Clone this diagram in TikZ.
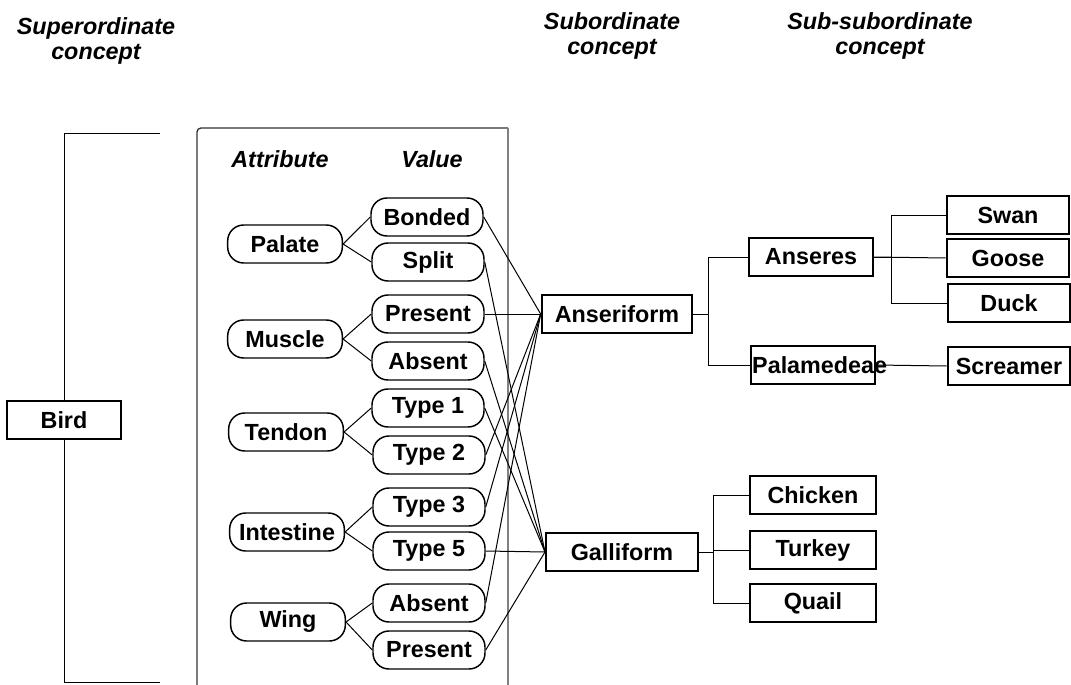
\documentclass[tikz,border=0pt]{standalone}
\usepackage{fontspec}
\setmainfont{Liberation Sans}
\usetikzlibrary{positioning}
\tikzstyle{head} = [align=center, font=\bfseries\itshape\fontsize{17.5}{19}\selectfont]
\tikzstyle{attr} = [rectangle, rounded corners=12pt, draw=black, line width=1.1pt, inner sep=0pt, minimum width=86pt, minimum height=28.5pt, font=\bfseries\fontsize{17.5}{21}\selectfont]
\tikzstyle{val} = [attr, minimum width=84pt]
\tikzstyle{concept} = [rectangle, draw=black, line width=1.5pt, inner sep=0pt, minimum height=28.5pt, fill=white, font=\bfseries\fontsize{17.5}{21}\selectfont]
\tikzstyle{link} = [line width=0.75pt]

\begin{document}
\begin{tikzpicture}[x=0.75pt, y=-0.75pt]
\useasboundingbox (0,0) rectangle (1071,685);

% headings
\node (hsuper) [head] at (96,41) {Superordinate\\concept};
\node (hsub) [head] at (612,36) {Subordinate\\concept};
\node (hsubsub) [head] at (880,36) {Sub-subordinate\\concept};

% attribute frame
\draw [black!80, line width=1pt, rounded corners=3pt] (197,685) -- (197,128) -- (508,128);
\draw [gray, line width=1.3pt] (508,128) -- (508,685);
\node (hattr) [head] at (280,159) {Attribute};
\node (hval) [head] at (432,159) {Value};

% superordinate
\node (bird) [concept, minimum width=86pt] at (64,420) {Bird};
\draw [link] (160,133) -| (bird.north);
\draw [link] (bird.south) |- (160,682);

% attributes
\node (palate) [attr] at (285,244) {Palate};
\node (muscle) [attr] at (285,339) {Muscle};
\node (tendon) [attr] at (286,432) {Tendon};
\node (intestine) [attr] at (287,532) {Intestine};
\node (wing) [attr] at (288,622) {Wing};

% values
\node (bonded) [val] at (427,217) {Bonded};
\node (split) [val] at (428,262) {Split};
\node (mpresent) [val] at (428,314) {Present};
\node (mabsent) [val] at (428,361) {Absent};
\node (type1) [val] at (428,408) {Type 1};
\node (type2) [val] at (429,455) {Type 2};
\node (type3) [val] at (429,507) {Type 3};
\node (type5) [val] at (429,551) {Type 5};
\node (wabsent) [val] at (429,603) {Absent};
\node (wpresent) [val] at (429,650) {Present};

\draw [link] (palate.east) -- (bonded.west);
\draw [link] (palate.east) -- (split.west);
\draw [link] (muscle.east) -- (mpresent.west);
\draw [link] (muscle.east) -- (mabsent.west);
\draw [link] (tendon.east) -- (type1.west);
\draw [link] (tendon.east) -- (type2.west);
\draw [link] (intestine.east) -- (type3.west);
\draw [link] (intestine.east) -- (type5.west);
\draw [link] (wing.east) -- (wabsent.west);
\draw [link] (wing.east) -- (wpresent.west);

% subordinate
\node (anseriform) [concept, minimum width=113pt] at (617,314) {Anseriform};
\node (galliform) [concept, minimum width=114pt] at (622,552) {Galliform};

\draw [link] (bonded.east) -- (anseriform.west);
\draw [link] (mpresent.east) -- (anseriform.west);
\draw [link] (type2.east) -- (anseriform.west);
\draw [link] (type3.east) -- (anseriform.west);
\draw [link] (wabsent.east) -- (anseriform.west);
\draw [link] (split.east) -- (galliform.west);
\draw [link] (mabsent.east) -- (galliform.west);
\draw [link] (type1.east) -- (galliform.west);
\draw [link] (type5.east) -- (galliform.west);
\draw [link] (wpresent.east) -- (galliform.west);

% sub-subordinate
\node (anseres) [concept, minimum width=93pt] at (811,257) {Anseres};
\node (palamedeae) [concept, minimum width=93pt, fill=none] at (813,365) {\makebox[0pt]{\hspace{10pt}Palamedeae}};
\node (swan) [concept, minimum width=92pt] at (1008,215) {Swan};
\node (goose) [concept, minimum width=92pt] at (1008,258) {Goose};
\node (duck) [concept, minimum width=92pt] at (1009,303) {Duck};
\node (screamer) [concept, minimum width=92pt] at (1009,366) {Screamer};
\node (chicken) [concept, minimum width=94pt] at (813,495) {Chicken};
\node (turkey) [concept, minimum width=94pt] at (813,550) {Turkey};
\node (quail) [concept, minimum width=94pt] at (813,603) {Quail};

\draw [link] (anseriform.east) -- ++(15,0) |- (anseres.west);
\draw [link] (anseriform.east) -- ++(15,0) |- (palamedeae.west);
\draw [link] (anseres.east) -- ++(17,0) |- (swan.west);
\draw [link] (anseres.east) -- (goose.west);
\draw [link] (anseres.east) -- ++(17,0) |- (duck.west);
\draw [link] (palamedeae.east) -- (screamer.west);
\draw [link] (galliform.east) -- ++(14,0) |- (chicken.west);
\draw [link] (galliform.east) -- ++(14,0) |- (turkey.west);
\draw [link] (galliform.east) -- ++(14,0) |- (quail.west);

\end{tikzpicture}
\end{document}
